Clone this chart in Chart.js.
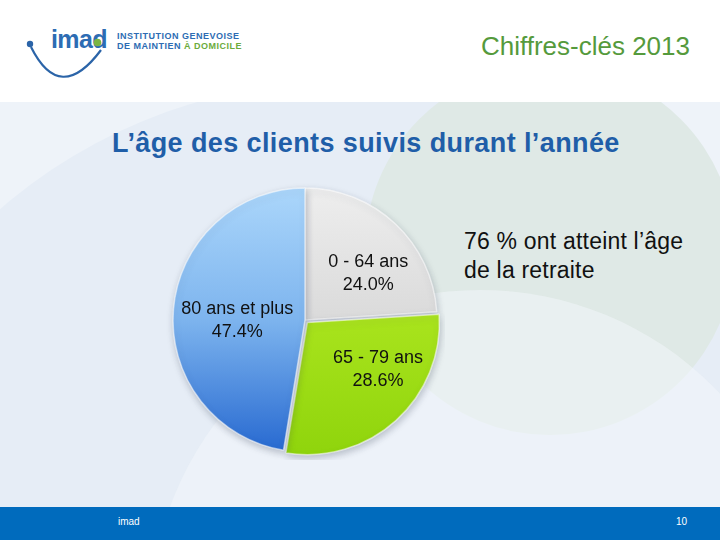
<!DOCTYPE html>
<html>
<head>
<meta charset="utf-8">
<script src="https://cdn.jsdelivr.net/npm/chart.js@4.4.1/dist/chart.umd.min.js"></script>
<style>
  html, body { margin: 0; padding: 0; }
  body { width: 720px; height: 540px; position: relative; overflow: hidden; background: #ffffff; font-family: "Liberation Sans", Arial, sans-serif; }
  .abs { position: absolute; white-space: nowrap; }
  #bg { position: absolute; left: 0; top: 102px; width: 720px; height: 405px; background: #eef3f9; overflow: hidden; }
  .circ { position: absolute; border-radius: 50%; }
  #footer { position: absolute; left: 0; top: 507px; width: 720px; height: 33px; background: #006bbd; }
  #chartBox { position: absolute; left: 165px; top: 180px; width: 280px; height: 280px; }
</style>
</head>
<body>
<div id="bg">
  <div class="circ" style="left:-178px; top:-20px; width:1036px; height:1036px; background:#e6edf6;"></div>
  <div class="circ" style="left:365px; top:-37px; width:370px; height:370px; background:#dfe9e6;"></div>
  <div class="circ" style="left:150px; top:188px; width:660px; height:660px; background:rgba(244,248,252,0.5);"></div>
</div>
<div id="footer"></div>

<!-- logo -->
<svg class="abs" style="left:0;top:0" width="260" height="100">
  <path d="M31 47 Q60 105 101 50" fill="none" stroke="#2b64a8" stroke-width="2.2"/>
  <circle cx="30" cy="44" r="3.2" fill="#2b64a8"/>
</svg>
<div class="abs" style="left:51px; top:27px; font-size:25px; line-height:25px; font-weight:bold; color:#2d6cb3; letter-spacing:-0.6px;">imad</div>
<svg class="abs" style="left:0;top:0" width="260" height="100">
  <circle cx="97.5" cy="42.5" r="3.8" fill="#7bb542"/>
</svg>
<div class="abs" style="left:117px; top:32px; font-size:9px; line-height:9px; font-weight:bold; color:#2d6cb3; letter-spacing:0.5px;">INSTITUTION GENEVOISE</div>
<div class="abs" style="left:117px; top:42px; font-size:9px; line-height:9px; font-weight:bold; color:#2d6cb3; letter-spacing:0.5px;">DE MAINTIEN <span style="color:#6cab3c">À DOMICILE</span></div>

<div class="abs" style="right:30px; top:33px; font-size:26px; line-height:26px; color:#559a3c;">Chiffres-clés 2013</div>
<div class="abs" style="left:112px; top:130px; font-size:27px; line-height:27px; font-weight:bold; color:#1f5ea8; letter-spacing:0.4px;">L’âge des clients suivis durant l’année</div>

<div class="abs" style="left:464px; top:227px; font-size:23px; line-height:29px; color:#111; letter-spacing:0.2px;">76 % ont atteint l’âge<br>de la retraite</div>

<div class="abs" style="left:118px; top:517px; font-size:10px; line-height:10px; color:#ffffff;">imad</div>
<div class="abs" style="left:676px; top:517px; font-size:10px; line-height:10px; color:#ffffff;">10</div>

<div id="chartBox"><canvas id="c"></canvas></div>

<script>
const categories = ["0 - 64 ans", "65 - 79 ans", "80 ans et plus"];
const values = [24.0, 28.6, 47.4];
const valueLabels = ["24.0%", "28.6%", "47.4%"];

const gradStops = [
  ["#eeeeee", "#dadada", "#c8c8c8"],
  ["#c2ef3a", "#a8e31c", "#8fd40c"],
  ["#acd7fb", "#7db4ee", "#2668d0"]
];
const labelShift = [[18, 2], [24, -5], [-2, 6]];

function sliceFill(context) {
  const chart = context.chart;
  const area = chart.chartArea;
  const i = context.dataIndex;
  if (!area) return gradStops[i][1];
  const g = chart.ctx.createLinearGradient(0, area.top + 6, 0, area.bottom - 6);
  g.addColorStop(0, gradStops[i][0]);
  g.addColorStop(0.5, gradStops[i][1]);
  g.addColorStop(1, gradStops[i][2]);
  return g;
}

const shadowPlugin = {
  id: 'shadow',
  beforeDatasetsDraw(chart) {
    const ctx = chart.ctx;
    ctx.save();
    ctx.shadowColor = 'rgba(60,70,90,0.30)';
    ctx.shadowBlur = 7;
    ctx.shadowOffsetX = 1;
    ctx.shadowOffsetY = 3;
  },
  afterDatasetsDraw(chart) {
    chart.ctx.restore();
  }
};

const labelPlugin = {
  id: 'sliceLabels',
  afterDatasetsDraw(chart) {
    const ctx = chart.ctx;
    const meta = chart.getDatasetMeta(0);
    ctx.save();
    ctx.shadowColor = 'transparent';
    ctx.font = '18px "Liberation Sans", Arial, sans-serif';
    ctx.fillStyle = '#111111';
    ctx.textAlign = 'center';
    ctx.textBaseline = 'middle';
    meta.data.forEach((arc, i) => {
      const p = arc.tooltipPosition();
      const x = p.x + labelShift[i][0];
      const y = p.y + labelShift[i][1];
      ctx.fillText(chart.data.labels[i], x, y - 11.5);
      ctx.fillText(valueLabels[i], x, y + 11.5);
    });
    ctx.restore();
  }
};

new Chart(document.getElementById('c'), {
  type: 'pie',
  data: {
    labels: categories,
    datasets: [{
      data: values,
      backgroundColor: sliceFill,
      borderColor: 'rgba(255,255,255,0.55)',
      borderWidth: 1.5,
      offset: [0, 14, 0]
    }]
  },
  options: {
    responsive: true,
    maintainAspectRatio: false,
    animation: false,
    radius: 132,
    rotation: 0,
    layout: { padding: 0 },
    plugins: {
      legend: { display: false },
      tooltip: { enabled: false }
    }
  },
  plugins: [shadowPlugin, labelPlugin]
});
</script>
</body>
</html>
